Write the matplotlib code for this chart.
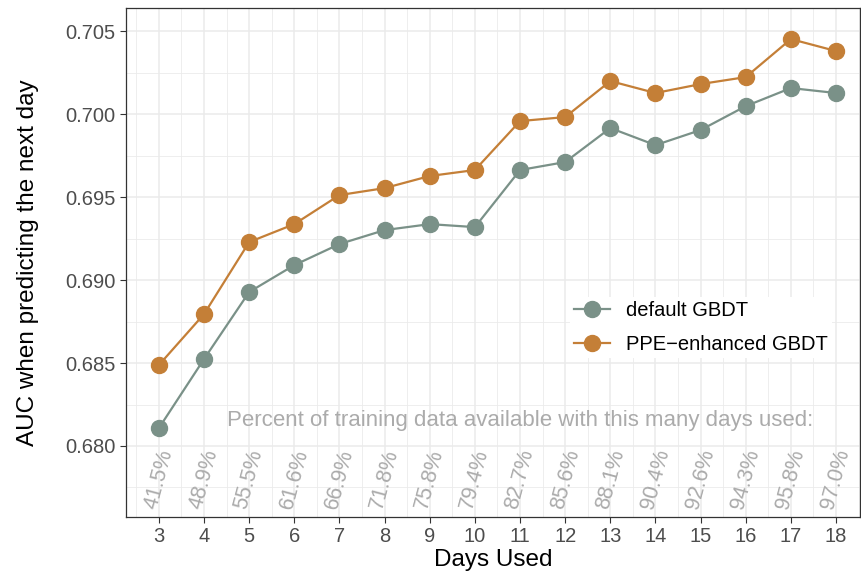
import numpy as np
import matplotlib
matplotlib.use('Agg')
import matplotlib.pyplot as plt
from matplotlib.ticker import MultipleLocator

plt.rcParams['font.family'] = ['Liberation Sans', 'DejaVu Sans']

days = list(range(3, 19))
default_auc = [0.68108, 0.68524, 0.68928, 0.69090, 0.69217, 0.69301, 0.69337, 0.69319,
               0.69663, 0.69711, 0.69916, 0.69813, 0.69904, 0.70048, 0.70157, 0.70127]
ppe_auc = [0.68488, 0.68795, 0.69229, 0.69337, 0.69512, 0.69554, 0.69627, 0.69663,
           0.69958, 0.69982, 0.70199, 0.70127, 0.70181, 0.70223, 0.70452, 0.70380]
pct_labels = ['41.5%', '48.9%', '55.5%', '61.6%', '66.9%', '71.8%', '75.8%', '79.4%',
              '82.7%', '85.6%', '88.1%', '90.4%', '92.6%', '94.3%', '95.8%', '97.0%']

c_default = '#7a9188'
c_ppe = '#c47f37'

fig = plt.figure(figsize=(8.61, 5.76), dpi=100)
ax = fig.add_axes([0.1463, 0.1024, 0.8525, 0.8836])

ax.plot(days, default_auc, '-o', color=c_default, lw=1.6, ms=11.5, label='default GBDT', zorder=3)
ax.plot(days, ppe_auc, '-o', color=c_ppe, lw=1.6, ms=11.5, label='PPE\u2212enhanced GBDT', zorder=3)

ax.text(11.0, 0.68155, 'Percent of training data available with this many days used:',
        ha='center', va='center', color='#ababab', fontsize=16)
for d, p in zip(days, pct_labels):
    ax.text(d, 0.6780, p, ha='center', va='center', rotation=75, color='#ababab',
            fontsize=15.5)

ax.set_xlim(2.27, 18.53)
ax.set_ylim(0.67572, 0.70639)
ax.set_xticks(days)
ax.yaxis.set_minor_locator(MultipleLocator(0.0025))
ax.xaxis.set_minor_locator(MultipleLocator(0.5))
yt = np.arange(0.680, 0.7051, 0.005)
ax.set_yticks(yt)
ax.set_yticklabels(['%.3f' % v for v in yt])

ax.grid(which='major', color='#ebebeb', lw=1.1, zorder=0)
ax.grid(which='minor', color='#ebebeb', lw=0.6, zorder=0)
ax.set_axisbelow(True)
for s in ax.spines.values():
    s.set_color('#333333')
    s.set_linewidth(0.9)
ax.tick_params(which='major', length=4, color='#333333', labelsize=14.5, labelcolor='#4d4d4d')
ax.tick_params(which='minor', length=0)

ax.set_xlabel('Days Used', fontsize=17.5, labelpad=2)
ax.set_ylabel('AUC when predicting the next day', fontsize=17.5, labelpad=19)

leg = ax.legend(loc='center left', bbox_to_anchor=(0.591, 0.372), frameon=True, fontsize=14.5,
                handlelength=1.8, labelspacing=0.75, borderpad=0.2)
leg.get_frame().set_edgecolor('none')
leg.get_frame().set_facecolor('white')
leg.get_frame().set_alpha(1)

fig.savefig('out.png', dpi=100)
